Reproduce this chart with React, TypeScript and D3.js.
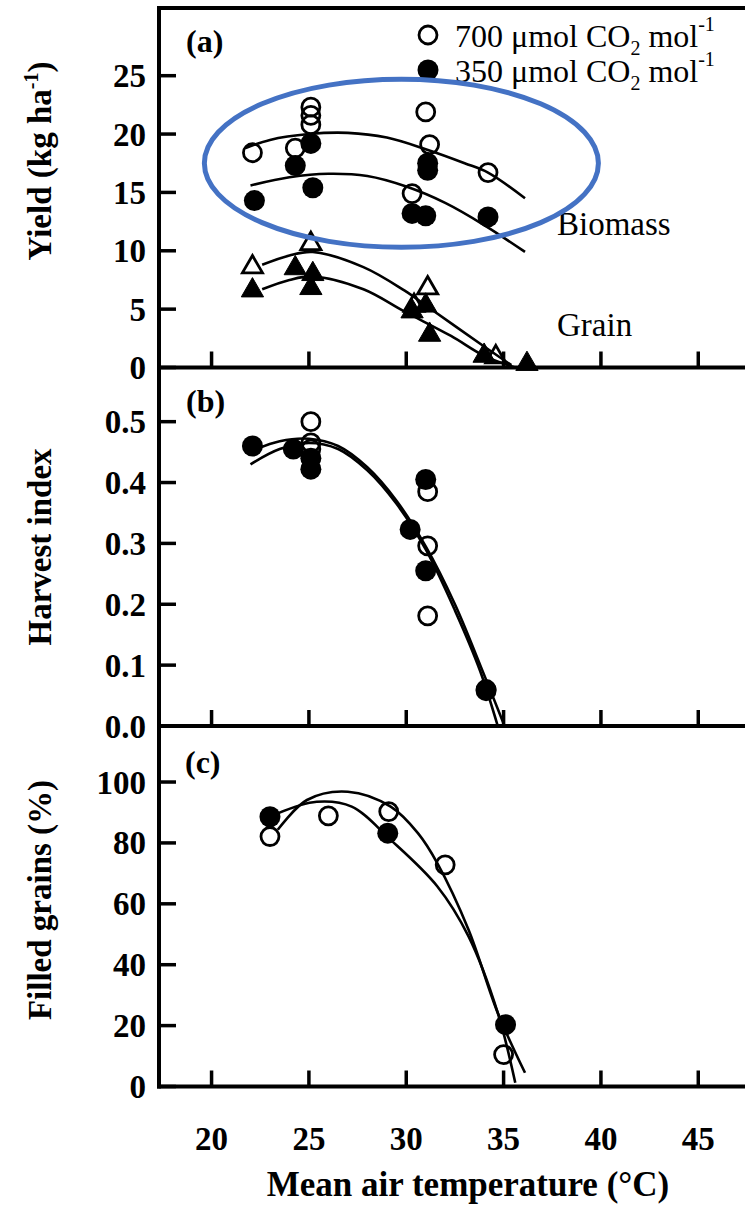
import React from 'react';
import * as d3 from 'd3';

// ---------- axis ticks ----------
const xTicks = [20, 25, 30, 35, 40, 45];
const yTicksA = [0, 5, 10, 15, 20, 25];
const yTicksB = [0, 0.1, 0.2, 0.3, 0.4, 0.5];
const yTicksC = [0, 20, 40, 60, 80, 100];

// ---------- panel (a): yield ----------
const bio700X = [22.1, 24.3, 25.1, 25.1, 25.1, 30.3, 31.0, 31.2, 34.2];
const bio700Y = [18.4, 18.8, 22.3, 21.6, 20.8, 14.9, 21.9, 19.1, 16.7];
const bio350X = [22.2, 24.3, 25.1, 25.2, 30.3, 31.0, 31.1, 31.1, 34.2];
const bio350Y = [14.3, 17.3, 19.2, 15.4, 13.2, 13.0, 17.5, 16.9, 12.9];
const gr700X = [22.1, 25.1, 30.4, 31.1, 34.6];
const gr700Y = [8.6, 10.6, 5.3, 6.8, 0.9];
const gr350X = [22.1, 24.3, 25.2, 25.1, 30.3, 31.0, 31.2, 34.0, 36.2];
const gr350Y = [6.6, 8.5, 8.0, 6.8, 4.8, 5.3, 2.8, 1.0, 0.3];

// fitted curves
const fitBio700: [number, number][] = [[21.75, 18.8], [23, 19.5], [25, 20.0], [27, 20.1], [29, 19.7], [31, 18.7], [33, 17.5], [34.2, 16.7], [36.1, 14.5]];
const fitBio350: [number, number][] = [[22.0, 15.6], [24, 16.3], [26, 16.6], [28, 16.4], [30, 15.5], [32, 14.1], [34, 12.2], [36.1, 9.9]];
const fitGr700: [number, number][] = [[22.6, 8.8], [24, 9.6], [25.2, 9.9], [27.8, 8.6], [29.9, 6.6], [31.1, 5.2], [34, 1.8], [35.4, 0.2]];
const fitGr350: [number, number][] = [[22.6, 6.7], [24, 7.5], [25.2, 7.8], [27.8, 6.7], [29.9, 4.8], [32.3, 2.7], [34, 1.0], [35.6, 0.0]];

// ---------- panel (b): harvest index ----------
const hi700X = [25.1, 25.1, 25.1, 31.1, 31.1, 31.1, 34.1];
const hi700Y = [0.50, 0.465, 0.455, 0.385, 0.296, 0.181, 0.06];
const hi350X = [22.1, 24.2, 25.1, 25.1, 30.2, 31.0, 31.0, 34.1];
const hi350Y = [0.46, 0.455, 0.44, 0.422, 0.323, 0.405, 0.255, 0.058];
const fitHi700: [number, number][] = [[22.0, 0.43], [23.5, 0.455], [25.0, 0.465], [26.5, 0.455], [28.0, 0.42], [29.5, 0.365], [31.0, 0.29], [32.5, 0.19], [33.8, 0.09], [34.7, 0.0]];
const fitHi350: [number, number][] = [[22.3, 0.455], [23.5, 0.468], [25.0, 0.472], [26.5, 0.46], [28.0, 0.425], [29.5, 0.37], [31.0, 0.295], [32.5, 0.2], [33.8, 0.1], [35.05, 0.0]];

// ---------- panel (c): filled grains ----------
const fg700X = [23.0, 26.0, 29.1, 32.0, 35.0];
const fg700Y = [82.1, 88.9, 90.3, 72.8, 10.5];
const fg350X = [23.0, 29.05, 35.1];
const fg350Y = [88.6, 83.2, 20.3];
const fitFg700: [number, number][] = [[23.4, 84.3], [24.9, 94.1], [27.0, 96.8], [29.2, 91.9], [30.6, 83.2], [31.6, 73.3], [33.2, 51.5], [34.7, 24.2], [36.1, 4.5]];
const fitFg350: [number, number][] = [[23.4, 89.7], [25.4, 93.5], [27.2, 91.9], [29.2, 81.0], [31.6, 65.7], [33.2, 49.3], [34.7, 24.2], [35.6, 1.2]];

// highlight annotation (data units of panel a)
const ellipseCx = 29.75, ellipseCy = 17.5, ellipseRx = 10.12, ellipseRy = 7.2;

const W = 745, H = 1206;
const FONT = "'Liberation Serif', 'Times New Roman', serif";
const AXIS_LEFT = 159;

const xScale = d3.scaleLinear().domain([17.3, 47.4]).range([AXIS_LEFT, 745]);
const yA = d3.scaleLinear().domain([0, 30.8]).range([367.5, 8]);
const yB = d3.scaleLinear().domain([0, 0.589]).range([726, 367.5]);
const yC = d3.scaleLinear().domain([0, 118.4]).range([1086.5, 726]);

const lineGen = (ys: d3.ScaleLinear<number, number>) =>
  d3.line<[number, number]>().x(d => xScale(d[0])).y(d => ys(d[1])).curve(d3.curveCatmullRom.alpha(0.5));

const zip = (xs: number[], ys: number[]) => xs.map((x, i) => [x, ys[i]] as [number, number]);

const triOpen = d3.symbol().type(d3.symbolTriangle).size(175)();
const triFilled = d3.symbol().type(d3.symbolTriangle).size(215)();

function Circles({ pts, ys, open }: { pts: [number, number][]; ys: any; open: boolean }) {
  return (
    <g>
      {pts.map((p, i) => open ? (
        <circle key={i} cx={xScale(p[0])} cy={ys(p[1])} r={9} fill="none" stroke="#000" strokeWidth={2.8} />
      ) : (
        <circle key={i} cx={xScale(p[0])} cy={ys(p[1])} r={10.5} fill="#000" />
      ))}
    </g>
  );
}

function Triangles({ pts, ys, open }: { pts: [number, number][]; ys: any; open: boolean }) {
  return (
    <g>
      {pts.map((p, i) => (
        <path key={i} transform={`translate(${xScale(p[0])},${ys(p[1])})`} d={open ? triOpen! : triFilled!}
          fill={open ? 'none' : '#000'} stroke="#000" strokeWidth={open ? 2.8 : 1} />
      ))}
    </g>
  );
}

function Axes({ ys, ticks, fmt }: { ys: any; ticks: number[]; fmt: (v: number) => string }) {
  const [y0] = ys.range();
  return (
    <g>
      <line x1={AXIS_LEFT - 2} x2={745} y1={y0} y2={y0} stroke="#000" strokeWidth={4} />
      {ticks.map(t => (
        <g key={t}>
          <line x1={AXIS_LEFT} x2={AXIS_LEFT + 17} y1={ys(t)} y2={ys(t)} stroke="#000" strokeWidth={3.5} />
          <text x={146} y={ys(t)} dy="0.35em" textAnchor="end" fontSize={33} fontWeight="bold" fontFamily={FONT}>{fmt(t)}</text>
        </g>
      ))}
      {xTicks.map(t => (
        <line key={t} x1={xScale(t)} x2={xScale(t)} y1={y0} y2={y0 - 16} stroke="#000" strokeWidth={3.5} />
      ))}
    </g>
  );
}

export default function App() {
  const fmtInt = d3.format('d');
  const fmt1 = d3.format('.1f');
  return (
    <svg width={W} height={H} viewBox={`0 0 ${W} ${H}`} style={{ position: 'absolute', left: 0, top: 0, background: '#fff' }}>
      <rect x={0} y={0} width={W} height={H} fill="#fff" />
      {/* frame */}
      <line x1={AXIS_LEFT - 2} x2={745} y1={8} y2={8} stroke="#000" strokeWidth={4} />
      <line x1={AXIS_LEFT} x2={AXIS_LEFT} y1={6} y2={1088.5} stroke="#000" strokeWidth={4} />

      <Axes ys={yA} ticks={yTicksA} fmt={fmtInt} />
      <Axes ys={yB} ticks={yTicksB} fmt={fmt1} />
      <Axes ys={yC} ticks={yTicksC} fmt={fmtInt} />

      {/* x tick labels */}
      {xTicks.map(t => (
        <text key={t} x={xScale(t)} y={1150} textAnchor="middle" fontSize={33} fontWeight="bold" fontFamily={FONT}>{t}</text>
      ))}
      <text x={468} y={1196} textAnchor="middle" fontSize={35} fontWeight="bold" fontFamily={FONT}>Mean air temperature (°C)</text>

      {/* y titles */}
      <text transform="translate(51,161) rotate(-90)" textAnchor="middle" fontSize={33} fontWeight="bold" fontFamily={FONT}>
        Yield (kg ha<tspan fontSize={20} dy={-13}>-1</tspan><tspan dy={13}>)</tspan>
      </text>
      <text transform="translate(51,547) rotate(-90)" textAnchor="middle" fontSize={33} fontWeight="bold" fontFamily={FONT}>Harvest index</text>
      <text transform="translate(51,900) rotate(-90)" textAnchor="middle" fontSize={33} fontWeight="bold" fontFamily={FONT}>Filled grains (%)</text>

      {/* panel labels */}
      <text x={186} y={52} fontSize={32} fontWeight="bold" fontFamily={FONT}>(a)</text>
      <text x={186} y={412} fontSize={32} fontWeight="bold" fontFamily={FONT}>(b)</text>
      <text x={185} y={773} fontSize={32} fontWeight="bold" fontFamily={FONT}>(c)</text>

      {/* legend */}
      <circle cx={428} cy={35} r={9} fill="none" stroke="#000" strokeWidth={2.8} />
      <circle cx={428} cy={70} r={10.5} fill="#000" />
      <text x={455} y={47} fontSize={32} fontFamily={FONT}>
        700 μmol CO<tspan fontSize={20} dy={8}>2</tspan><tspan dy={-8}> mol</tspan><tspan fontSize={20} dy={-16}>-1</tspan>
      </text>
      <text x={455} y={82} fontSize={32} fontFamily={FONT}>
        350 μmol CO<tspan fontSize={20} dy={8}>2</tspan><tspan dy={-8}> mol</tspan><tspan fontSize={20} dy={-16}>-1</tspan>
      </text>

      <text x={557} y={235} fontSize={33} fontFamily={FONT}>Biomass</text>
      <text x={557} y={336} fontSize={33} fontFamily={FONT}>Grain</text>

      {/* panel a markers */}
      <Circles pts={zip(bio700X, bio700Y)} ys={yA} open={true} />
      <Circles pts={zip(bio350X, bio350Y)} ys={yA} open={false} />
      <Triangles pts={zip(gr700X, gr700Y)} ys={yA} open={true} />
      <Triangles pts={zip(gr350X, gr350Y)} ys={yA} open={false} />
      {[fitBio700, fitBio350, fitGr700, fitGr350].map((f, i) => (
        <path key={i} d={lineGen(yA)(f)!} fill="none" stroke="#000" strokeWidth={2.6} />
      ))}

      {/* panel b */}
      <Circles pts={zip(hi700X, hi700Y)} ys={yB} open={true} />
      <Circles pts={zip(hi350X, hi350Y)} ys={yB} open={false} />
      {[fitHi700, fitHi350].map((f, i) => (
        <path key={i} d={lineGen(yB)(f)!} fill="none" stroke="#000" strokeWidth={2.6} />
      ))}

      {/* panel c */}
      <Circles pts={zip(fg700X, fg700Y)} ys={yC} open={true} />
      <Circles pts={zip(fg350X, fg350Y)} ys={yC} open={false} />
      {[fitFg700, fitFg350].map((f, i) => (
        <path key={i} d={lineGen(yC)(f)!} fill="none" stroke="#000" strokeWidth={2.6} />
      ))}

      {/* highlight ellipse */}
      <ellipse cx={xScale(ellipseCx)} cy={yA(ellipseCy)}
        rx={xScale(ellipseCx + ellipseRx) - xScale(ellipseCx)}
        ry={yA(ellipseCy - ellipseRy) - yA(ellipseCy)}
        fill="none" stroke="#4472C4" strokeWidth={5} />
    </svg>
  );
}
